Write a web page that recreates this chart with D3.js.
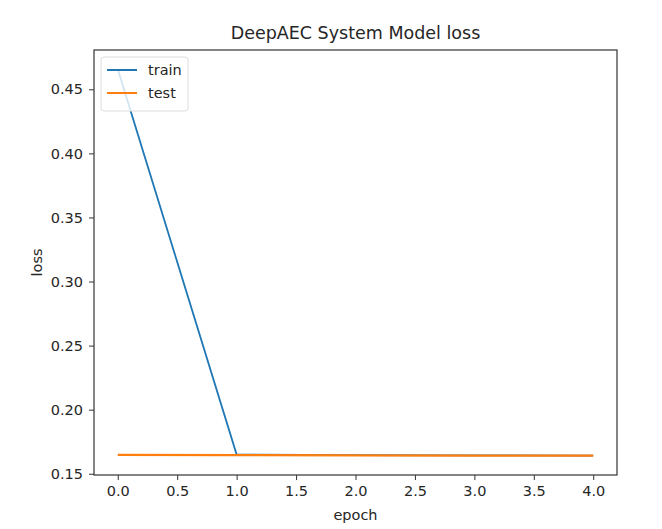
<!DOCTYPE html>
<html><head><meta charset="utf-8">
<script src="https://cdn.jsdelivr.net/npm/d3@7"></script>
<style>body{margin:0;background:#fff}svg{display:block}text{font-family:"DejaVu Sans",sans-serif;fill:#262626}</style>
</head><body><svg id="c" width="662" height="529"></svg>
<script>
const epochs = [0, 1, 2, 3, 4];
const trainLoss = [0.4656, 0.1650, 0.1645, 0.1643, 0.1642];
const testLoss = [0.1648, 0.1645, 0.1643, 0.1642, 0.1641];
const xTicks = [0, 0.5, 1, 1.5, 2, 2.5, 3, 3.5, 4];
const yTicks = [0.15, 0.20, 0.25, 0.30, 0.35, 0.40, 0.45];
const seriesNames = ["train", "test"];
const colors = ["#1f77b4", "#ff7f0e"];

const svg = d3.select("#c");
const m = {l: 94, r: 617, t: 50, b: 475};
const x = d3.scaleLinear().domain([-0.2, 4.2]).range([m.l, m.r]);
const allV = trainLoss.concat(testLoss);
const lo = d3.min(allV), hi = d3.max(allV), pad = (hi - lo) * 0.05;
const y = d3.scaleLinear().domain([lo - pad, hi + pad]).range([m.b, m.t]);

const xa = svg.append("g").attr("transform", `translate(0,${m.b})`)
  .call(d3.axisBottom(x).tickValues(xTicks).tickFormat(d3.format(".1f")).tickSizeOuter(0).tickSize(5).tickPadding(6));
const ya = svg.append("g").attr("transform", `translate(${m.l},0)`)
  .call(d3.axisLeft(y).tickValues(yTicks).tickFormat(d3.format(".2f")).tickSizeOuter(0).tickSize(5).tickPadding(6));
[xa, ya].forEach(a => {
  a.select(".domain").remove();
  a.selectAll("line").attr("stroke", "#333").attr("stroke-width", 1);
  a.selectAll("text").attr("font-size", 14.5).attr("fill", "#262626").attr("font-family", "DejaVu Sans");
});

const line = d3.line().x((d, i) => x(epochs[i])).y(d => y(d));
[trainLoss, testLoss].forEach((s, k) => {
  svg.append("path").datum(s).attr("d", line).attr("fill", "none")
    .attr("stroke", colors[k]).attr("stroke-width", k === 1 ? 2.2 : 1.8);
});
// redraw train on top? matplotlib draws test after train
svg.append("rect").attr("x", m.l).attr("y", m.t).attr("width", m.r - m.l).attr("height", m.b - m.t)
  .attr("fill", "none").attr("stroke", "#333").attr("stroke-width", 1.2);

svg.append("text").attr("x", (m.l + m.r) / 2).attr("y", 39).attr("text-anchor", "middle")
  .attr("font-size", 17.5).text("DeepAEC System Model loss");
svg.append("text").attr("x", (m.l + m.r) / 2).attr("y", 520).attr("text-anchor", "middle")
  .attr("font-size", 14.5).text("epoch");
svg.append("text").attr("transform", `translate(42,${(m.t + m.b) / 2}) rotate(-90)`).attr("text-anchor", "middle")
  .attr("font-size", 14.5).text("loss");

const lg = svg.append("g");
lg.append("rect").attr("x", 101).attr("y", 57).attr("width", 87).attr("height", 54).attr("rx", 3)
  .attr("fill", "#fff").attr("fill-opacity", 0.8).attr("stroke", "#ddd");
seriesNames.forEach((n, i) => {
  const yy = 70 + i * 23;
  lg.append("line").attr("x1", 107).attr("x2", 137).attr("y1", yy).attr("y2", yy)
    .attr("stroke", colors[i]).attr("stroke-width", 2);
  lg.append("text").attr("x", 148).attr("y", yy + 5).attr("font-size", 14.5).text(n);
});
</script></body></html>
